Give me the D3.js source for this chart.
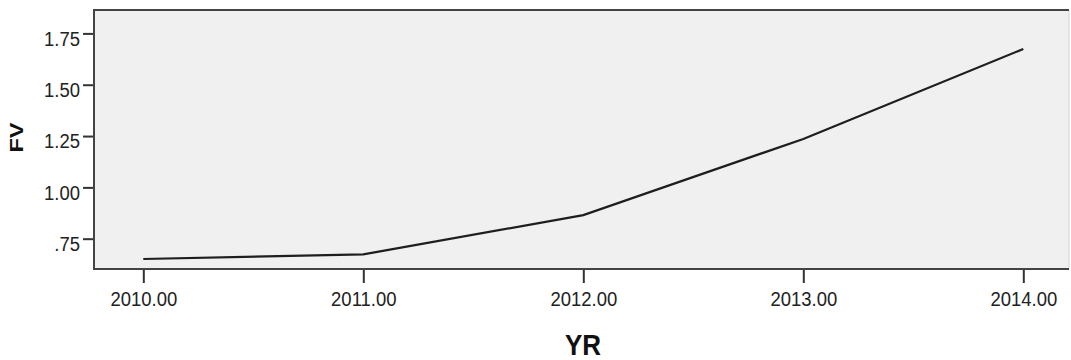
<!DOCTYPE html>
<html><head><meta charset="utf-8">
<script src="https://cdn.jsdelivr.net/npm/d3@7"></script>
<style>body{margin:0;background:#fff}svg{display:block}text{font-family:"Liberation Sans",Arial,sans-serif}</style>
</head><body><svg id="c" width="1071" height="360"></svg>
<script>
const years = [2010, 2011, 2012, 2013, 2014];
const fv = [0.651, 0.674, 0.865, 1.236, 1.674];
const yTicks = [0.75, 1.00, 1.25, 1.50, 1.75];
const xTicks = [2010, 2011, 2012, 2013, 2014];
const xTitle = "YR", yTitle = "FV";

const svg = d3.select("#c");
const L = 94, R = 1069, T = 10, B = 269;
const x = d3.scaleLinear().domain([2010, 2014]).range([143.3, 1023.3]);
const y = d3.scaleLinear().domain([0.75, 1.75]).range([238.7, 33.4]);

svg.append("rect").attr("x", L).attr("y", T).attr("width", R - L).attr("height", B - T)
  .attr("fill", "#f0f0f0").attr("stroke", "none");
svg.append("line").attr("x1", R).attr("x2", R).attr("y1", T).attr("y2", B).attr("stroke", "#d4d4d4").attr("stroke-width", 1);

const line = d3.line().x((d, i) => x(years[i])).y(d => y(d));
svg.append("path").datum(fv).attr("d", line).attr("fill", "none")
  .attr("stroke", "#1e1e1e").attr("stroke-width", 2.2);

const fmt = d => { const s = d3.format(".2f")(d); return s.startsWith("0") ? s.slice(1) : s; };
const SY = 1.12;

const ya = svg.append("g").attr("transform", `translate(${L},0)`)
  .call(d3.axisLeft(y).tickValues(yTicks).tickFormat(fmt).tickSize(11).tickPadding(3));
ya.select(".domain").remove();
ya.selectAll(".tick line").attr("stroke", "#333").attr("stroke-width", 2);
ya.selectAll(".tick text").attr("fill", "#222").style("font-size", "18.5px")
  .attr("dy", null).attr("y", 10.6).attr("transform", `scale(1,${SY})`);

const xa = svg.append("g").attr("transform", `translate(0,${B})`)
  .call(d3.axisBottom(x).tickValues(xTicks).tickFormat(d3.format(".2f")).tickSize(14).tickPadding(5));
xa.select(".domain").remove();
xa.selectAll(".tick line").attr("stroke", "#333").attr("stroke-width", 2);
xa.selectAll(".tick text").attr("fill", "#222").style("font-size", "18.5px")
  .attr("dy", null).attr("y", 33.2).attr("transform", `scale(1,${SY})`);

// frame left/top/bottom
svg.append("path").attr("d", `M${R},${T}H${L}V${B}H${R}`).attr("fill", "none")
  .attr("stroke", "#444").attr("stroke-width", 2);

svg.append("text").attr("transform", `translate(583,355) scale(1,1.15)`).attr("text-anchor", "middle")
  .style("font-size", "26px").style("font-weight", "bold").attr("fill", "#111").text(xTitle);
svg.append("text").attr("transform", "translate(23,137.5) rotate(-90) scale(1.3,1)").attr("text-anchor", "middle")
  .style("font-size", "18px").style("font-weight", "bold").attr("fill", "#111").text(yTitle);
</script></body></html>
